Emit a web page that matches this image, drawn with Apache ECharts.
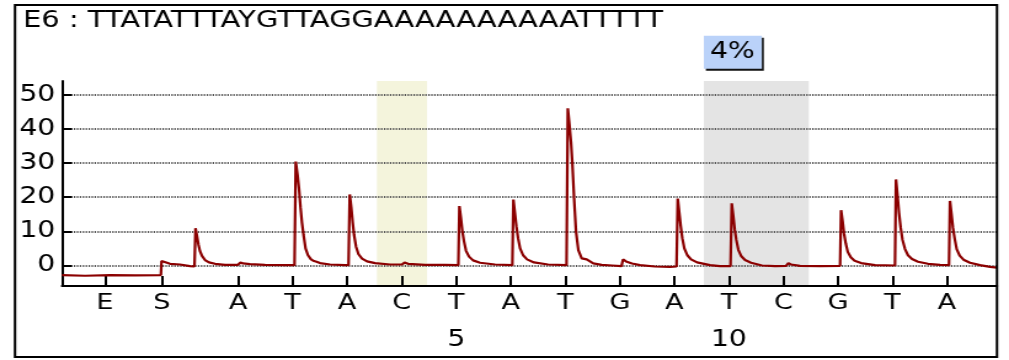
<!DOCTYPE html>
<html>
<head>
<meta charset="utf-8">
<script src="https://cdn.jsdelivr.net/npm/echarts@6/dist/echarts.min.js"></script>
<style>
html,body{margin:0;padding:0;background:#fff;overflow:hidden;}
#c{width:820px;height:360px;transform:scaleX(1.2305);transform-origin:0 0;}
</style>
</head>
<body>
<div id="c"></div>
<script>
const titleText = 'E6 : TTATATTTAYGTTAGGAAAAAAAAAATTTTT';
const tickPos = [-1.44, -0.40, 1, 2, 3, 4, 5, 6, 7, 8, 9, 10, 11, 12, 13, 14];
const tickLabels = ['E', 'S', 'A', 'T', 'A', 'C', 'T', 'A', 'T', 'G', 'A', 'T', 'C', 'G', 'T', 'A'];
const posNumbers = [5, 10];
const yTicks = [0, 10, 20, 30, 40, 50];
const yellowSpan = [3.547, 4.464];
const greySpan = [9.542, 11.465];
const greyLabel = '4%';
const traceX = [
  -2.227, -1.805, -1.347, -0.889, -0.415, -0.403, -0.375, -0.247, -0.063, 0.120, 0.202,
  0.221, 0.248, 0.276, 0.303, 0.340, 0.395, 0.468, 0.578, 0.762,
  1.000, 1.046, 1.092, 1.220, 1.495, 1.862, 2.036,
  2.058, 2.091, 2.118, 2.146, 2.173, 2.201, 2.238, 2.283, 2.338, 2.393, 2.439, 2.503, 2.687, 2.962, 3.026,
  3.048, 3.076, 3.103, 3.127, 3.164, 3.209, 3.274, 3.365, 3.512, 3.787, 4.007,
  4.053, 4.117, 4.429, 4.795, 5.039,
  5.058, 5.085, 5.113, 5.144, 5.180, 5.235, 5.309, 5.437, 5.712, 6.029,
  6.048, 6.075, 6.103, 6.134, 6.171, 6.226, 6.299, 6.427, 6.684, 7.023,
  7.047, 7.078, 7.106, 7.130, 7.161, 7.197, 7.240, 7.302, 7.393, 7.514, 7.668, 7.857, 8.031,
  8.059, 8.114, 8.224, 8.371, 8.646, 8.921, 9.040,
  9.062, 9.090, 9.117, 9.146, 9.183, 9.238, 9.306, 9.416, 9.654, 9.837, 10.030,
  10.052, 10.080, 10.107, 10.136, 10.173, 10.228, 10.296, 10.406, 10.607, 10.846, 11.048,
  11.090, 11.139, 11.304, 11.671, 12.038,
  12.056, 12.084, 12.111, 12.142, 12.179, 12.234, 12.304, 12.423, 12.680, 13.046,
  13.064, 13.092, 13.119, 13.151, 13.184, 13.230, 13.284, 13.358, 13.468, 13.651, 13.871, 14.036,
  14.054, 14.082, 14.109, 14.141, 14.177, 14.232, 14.302, 14.421, 14.605, 14.788, 14.916
];
const traceY = [
  -2.8, -3.0, -2.8, -2.9, -2.8, 1.3, 0.9, 0.5, 0.3, -0.2, -0.3,
  10.9, 8.6, 6.0, 4.2, 2.8, 1.6, 0.9, 0.5, 0.2,
  0.2, 0.9, 0.6, 0.4, 0.2, 0.1, 0.1,
  30.4, 26.5, 22.5, 17.0, 12.5, 9.0, 5.0, 3.0, 1.8, 1.3, 1.1, 0.7, 0.3, 0.1, 0.1,
  20.8, 17.0, 12.5, 9.0, 5.5, 3.3, 2.0, 1.2, 0.7, 0.3, 0.3,
  0.9, 0.5, 0.2, 0.2, 0.1,
  17.4, 14.0, 10.0, 7.0, 4.3, 2.6, 1.5, 0.8, 0.3, 0.1,
  19.3, 15.5, 11.5, 8.0, 5.0, 3.0, 1.8, 0.9, 0.3, 0.1,
  46.0, 41.0, 36.0, 30.0, 20.0, 10.0, 4.5, 2.1, 1.8, 0.6, 0.2, 0.0, -0.2,
  1.8, 1.2, 0.6, 0.1, -0.3, -0.4, -0.3,
  19.6, 15.5, 11.5, 8.0, 5.0, 3.0, 1.8, 0.9, 0.1, -0.2, -0.2,
  18.2, 14.5, 10.5, 7.5, 4.6, 2.7, 1.6, 0.8, 0.0, -0.2, -0.1,
  0.7, 0.3, -0.1, -0.2, -0.1,
  16.2, 13.0, 9.3, 6.5, 4.0, 2.4, 1.4, 0.7, 0.1, 0.0,
  25.2, 20.5, 15.5, 11.0, 7.5, 4.8, 3.0, 1.9, 1.1, 0.5, 0.2, 0.1,
  18.9, 15.0, 11.0, 7.8, 4.8, 2.9, 1.7, 0.8, 0.1, -0.4, -0.6
];

const FONT = 'DejaVu Sans';
const traceData = traceX.map((x, i) => [x, traceY[i]]);
const labelFor = v => {
  const i = tickPos.findIndex(p => Math.abs(p - v) < 1e-6);
  return i >= 0 ? tickLabels[i] : '';
};

const chart = echarts.init(document.getElementById('c'), null, {renderer: 'canvas'});
chart.setOption({
  animation: false,
  backgroundColor: '#fff',
  grid: {left: 50.4, right: 9.76, top: 81, bottom: 74, containLabel: false},
  xAxis: [{
    type: 'value', min: -2.227, max: 14.916, z: 2,
    axisLine: {show: true, onZero: false, lineStyle: {color: '#000', width: 2}},
    axisTick: {show: true, inside: true, length: 10, customValues: tickPos, lineStyle: {color: '#000', width: 2}},
    axisLabel: {show: true, customValues: tickPos, margin: 6, formatter: labelFor,
      color: '#000', fontFamily: FONT, fontSize: 22},
    splitLine: {show: false}
  }, {
    type: 'value', min: -2.227, max: 14.916, position: 'bottom', z: 2,
    axisLine: {show: false}, axisTick: {show: false},
    axisLabel: {show: true, customValues: posNumbers, margin: 43, formatter: v => String(v),
      color: '#000', fontFamily: FONT, fontSize: 23},
    splitLine: {show: false}
  }],
  yAxis: {
    type: 'value', min: -6, max: 54, z: 2,
    axisLine: {show: true, onZero: false, lineStyle: {color: '#000', width: 2}},
    axisTick: {show: true, inside: true, length: 8, customValues: yTicks, lineStyle: {color: '#000', width: 2}},
    axisLabel: {show: true, customValues: yTicks, margin: 5.5, color: '#000', fontFamily: FONT, fontSize: 23},
    splitLine: {show: true, lineStyle: {color: '#555', type: [1.2, 1.2], width: 2}}
  },
  series: [{
    type: 'line', data: [], z: 1, silent: true,
    markArea: {
      silent: true,
      data: [
        [{xAxis: yellowSpan[0], itemStyle: {color: '#f4f4dc'}}, {xAxis: yellowSpan[1]}],
        [{xAxis: greySpan[0], itemStyle: {color: '#e4e4e4'},
          label: {show: true, position: [0, -45.3], formatter: greyLabel,
            color: '#000', fontFamily: FONT, fontSize: 23,
            backgroundColor: '#bad2f9', padding: [0, 0, 0, 4.9], width: 42.2, height: 33, lineHeight: 33,
            align: 'left', verticalAlign: 'top',
            shadowColor: '#111', shadowOffsetX: 1.6, shadowOffsetY: 2, shadowBlur: 0}},
         {xAxis: greySpan[1]}]
      ]
    }
  }, {
    type: 'line', data: traceData, z: 3, symbol: 'none', smooth: false,
    lineStyle: {color: '#8b0000', width: 2.2}
  }],
  graphic: [{
    type: 'rect', z: 10, silent: true,
    shape: {x: 12.19, y: 5, width: 798.05, height: 352},
    style: {fill: null, stroke: '#000', lineWidth: 2}
  }, {
    type: 'text', z: 10, silent: true, x: 18.7, y: 21,
    style: {text: titleText, x: 0, y: 0, fill: '#000', font: '23.5px "DejaVu Sans"',
      textAlign: 'left', textVerticalAlign: 'middle'}
  }]
});
</script>
</body>
</html>
